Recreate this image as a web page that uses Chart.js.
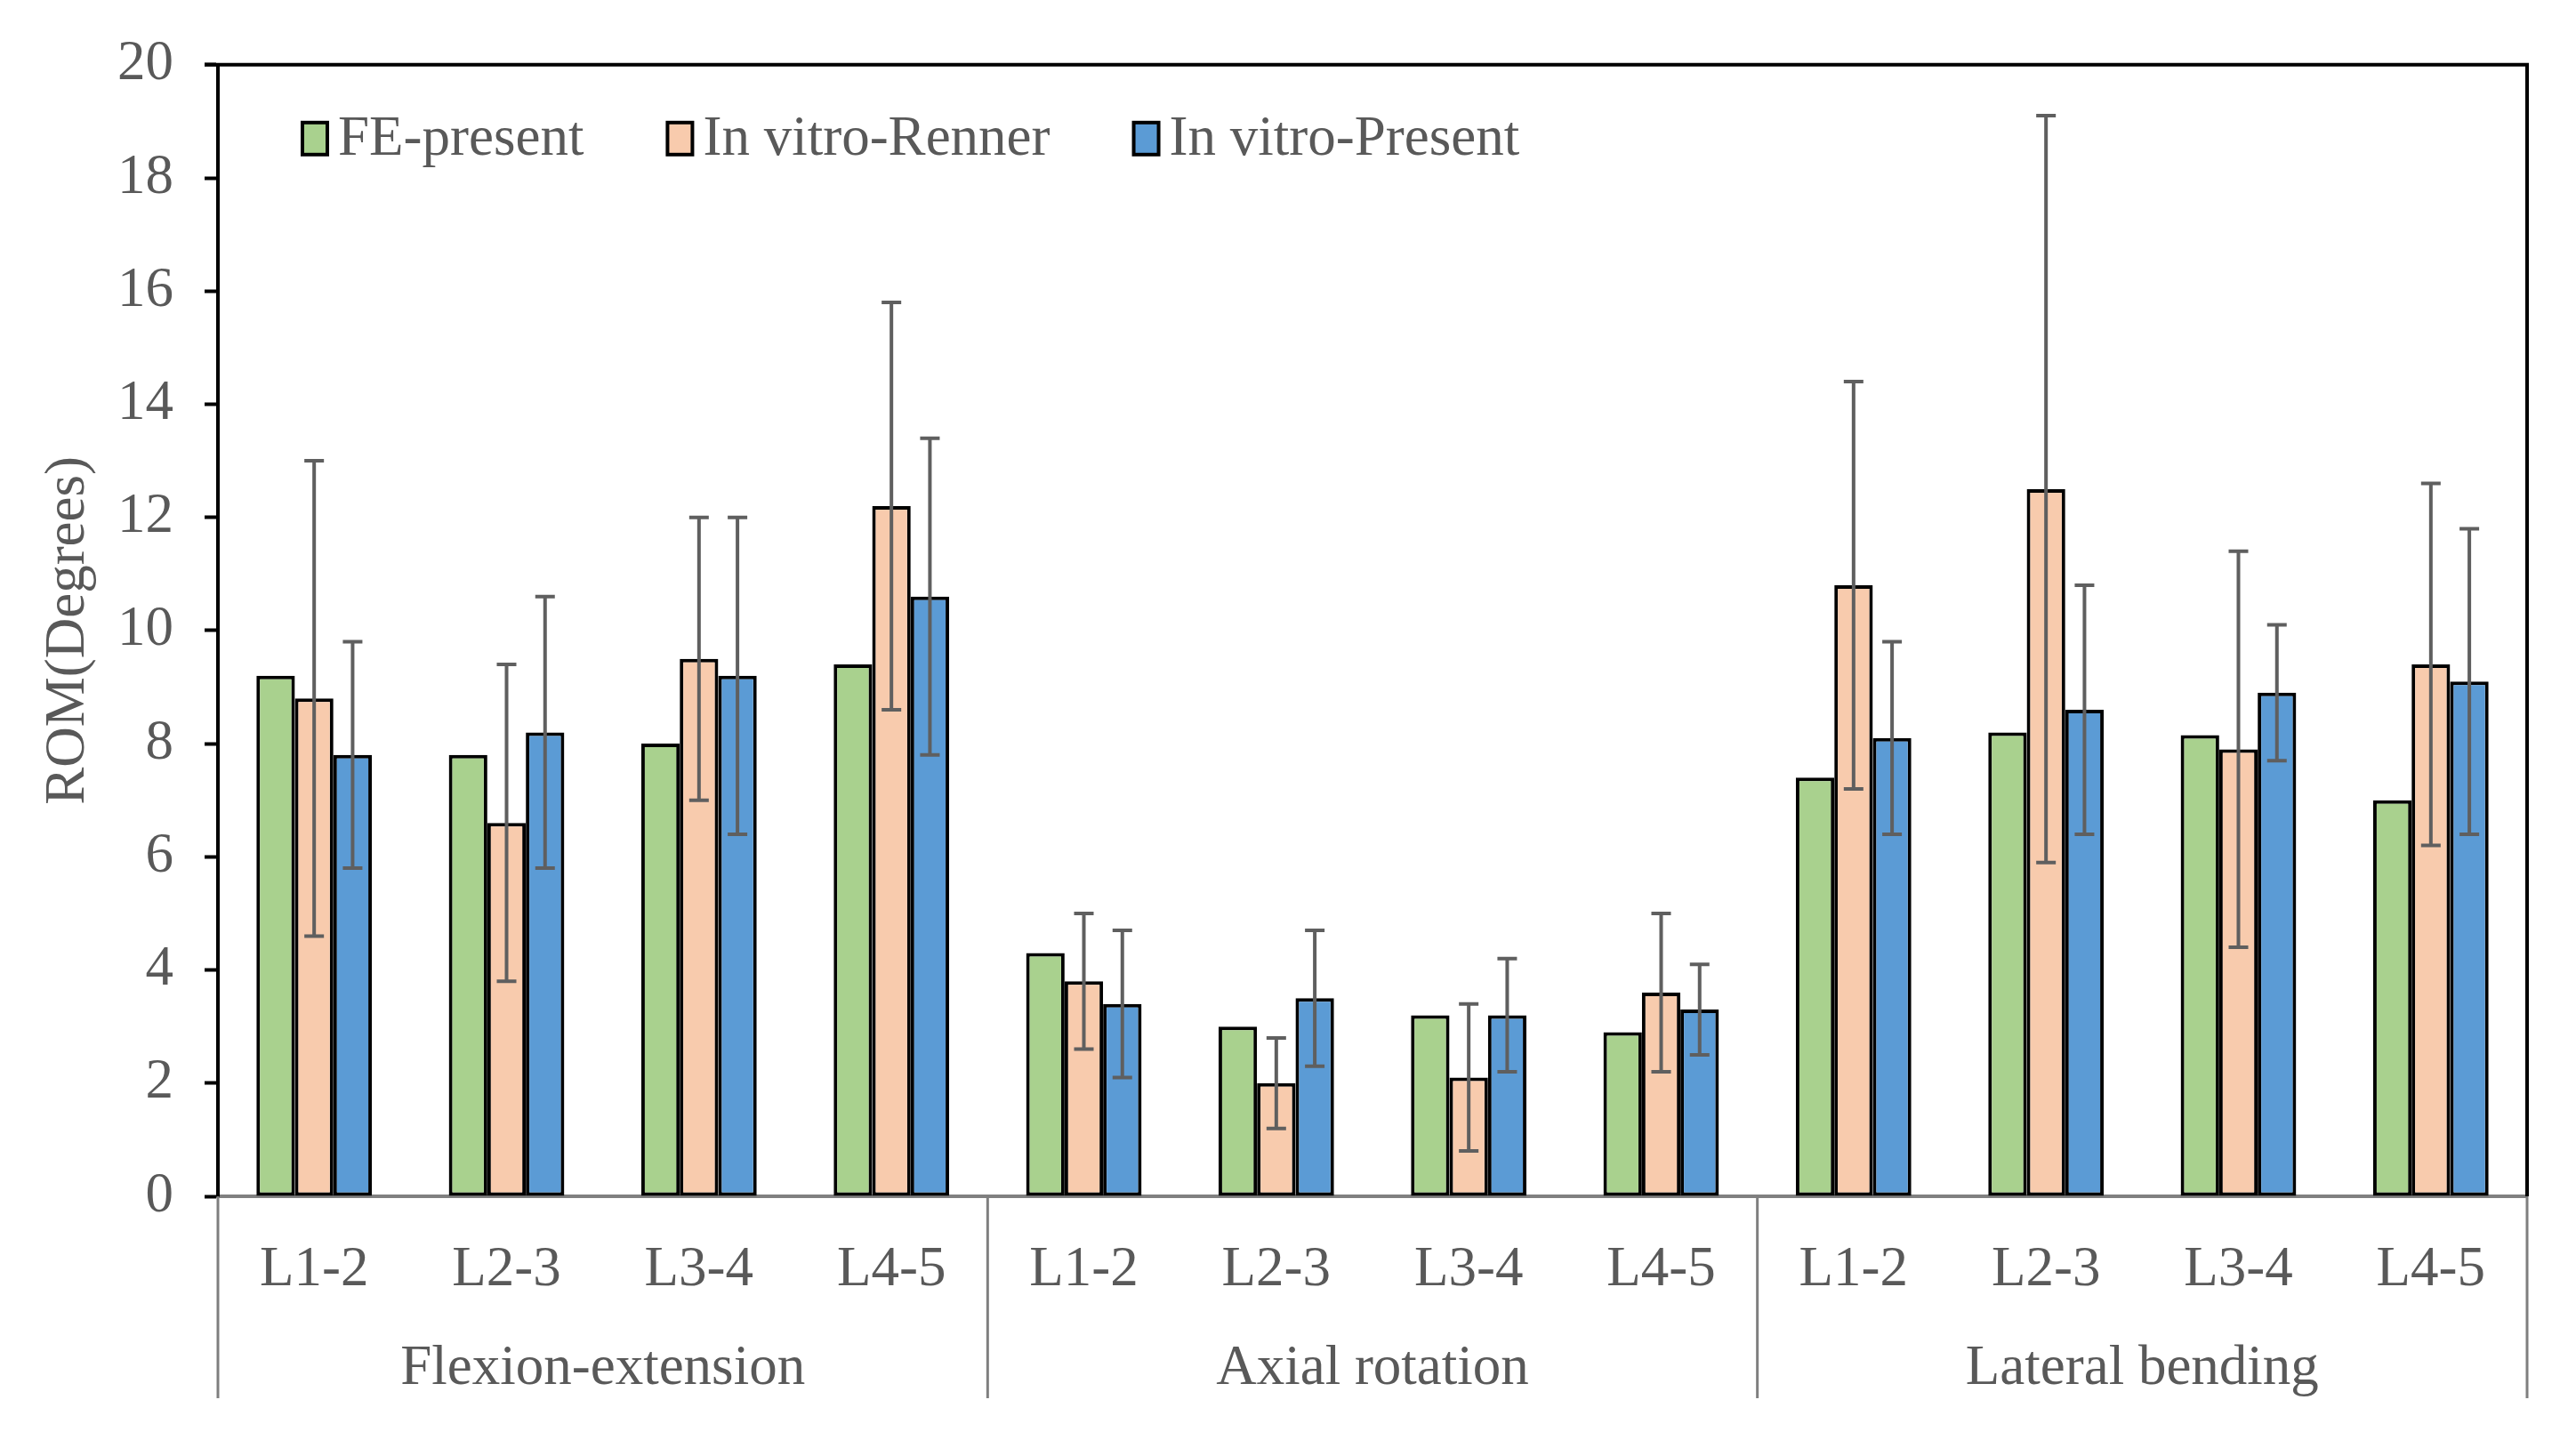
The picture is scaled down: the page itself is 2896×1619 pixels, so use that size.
<!DOCTYPE html>
<html>
<head>
<meta charset="utf-8">
<title>ROM comparison</title>
<script src="https://cdn.jsdelivr.net/npm/chart.js@4.4.0/dist/chart.umd.min.js"></script>
<style>
  html, body { margin: 0; padding: 0; background: #fff; }
  #wrap { width: 2896px; height: 1619px; }
</style>
</head>
<body>
<div id="wrap"><canvas id="romChart"></canvas></div>
<script>
// ===== DATA =====
const levels = ['L1-2', 'L2-3', 'L3-4', 'L4-5', 'L1-2', 'L2-3', 'L3-4', 'L4-5', 'L1-2', 'L2-3', 'L3-4', 'L4-5'];
const motions = ['Flexion-extension', 'Axial rotation', 'Lateral bending'];
const seriesNames = ['FE-present', 'In vitro-Renner', 'In vitro-Present'];

const fePresent = [9.2, 7.8, 8.0, 9.4, 4.3, 3.0, 3.2, 2.9, 7.4, 8.2, 8.15, 7.0];
const renner    = [8.8, 6.6, 9.5, 12.2, 3.8, 2.0, 2.1, 3.6, 10.8, 12.5, 7.9, 9.4];
const rennerSd  = [4.2, 2.8, 2.5, 3.6, 1.2, 0.8, 1.3, 1.4, 3.6, 6.6, 3.5, 3.2];
const present   = [7.8, 8.2, 9.2, 10.6, 3.4, 3.5, 3.2, 3.3, 8.1, 8.6, 8.9, 9.1];
const presentSd = [2.0, 2.4, 2.8, 2.8, 1.3, 1.2, 1.0, 0.8, 1.7, 2.2, 1.2, 2.7];

const yMin = 0, yMax = 20, yStep = 2;

// ===== STYLE =====
const FONT = 'Liberation Serif, Times New Roman, serif';
const TEXT = '#595959';
const colors = ['#A9D18E', '#F8CBAD', '#5B9BD5'];

// error bars (mean +/- sd) through the y scale
const errorBars = {
  id: 'errorBars',
  afterDatasetsDraw(chart) {
    const { ctx } = chart;
    const y = chart.scales.y;
    ctx.save();
    ctx.strokeStyle = '#5f5f5f';
    ctx.lineWidth = 4;
    chart.data.datasets.forEach((ds, di) => {
      if (!ds.sd) return;
      chart.getDatasetMeta(di).data.forEach((bar, i) => {
        const top = y.getPixelForValue(ds.data[i] + ds.sd[i]);
        const bot = y.getPixelForValue(ds.data[i] - ds.sd[i]);
        ctx.beginPath();
        ctx.moveTo(bar.x, top); ctx.lineTo(bar.x, bot);
        ctx.moveTo(bar.x - 11, top); ctx.lineTo(bar.x + 11, top);
        ctx.moveTo(bar.x - 11, bot); ctx.lineTo(bar.x + 11, bot);
        ctx.stroke();
      });
    });
    ctx.restore();
  }
};

// frame on top/right + group separators under the axis + legend in plot
const frame = {
  id: 'frame',
  afterDraw(chart) {
    const { ctx, chartArea: a } = chart;
    const x = chart.scales.x;
    ctx.save();
    ctx.strokeStyle = '#000';
    ctx.lineWidth = 4;
    ctx.beginPath();
    ctx.moveTo(a.left - 15, a.top); ctx.lineTo(a.right, a.top); ctx.lineTo(a.right, a.bottom);
    ctx.stroke();

    // separators between motion groups
    ctx.strokeStyle = '#7f7f7f';
    ctx.lineWidth = 3;
    const yEnd = chart.height - 47;
    for (let g = 0; g <= motions.length; g++) {
      const px = x.getPixelForValue(g * 4 - 0.5);
      ctx.beginPath();
      ctx.moveTo(px, a.bottom); ctx.lineTo(px, yEnd);
      ctx.stroke();
    }

    // legend
    ctx.font = `63px ${FONT}`;
    ctx.textBaseline = 'middle';
    ctx.textAlign = 'left';
    let lx = a.left + 95;
    const ly = a.top + 83;
    seriesNames.forEach((name, i) => {
      ctx.fillStyle = colors[i];
      ctx.fillRect(lx, ly - 18, 28, 36);
      ctx.strokeStyle = '#000';
      ctx.lineWidth = 4;
      ctx.strokeRect(lx, ly - 18, 28, 36);
      ctx.fillStyle = TEXT;
      ctx.fillText(name, lx + 40, ly + 2);
      lx += 40 + ctx.measureText(name).width + 94;
    });
    ctx.restore();
  }
};

const barStyle = { borderColor: '#000', borderWidth: 4, borderSkipped: false,
                   categoryPercentage: 0.6, barPercentage: 1.0 };

new Chart(document.getElementById('romChart'), {
  type: 'bar',
  data: {
    labels: levels,
    datasets: [
      { label: seriesNames[0], data: fePresent, backgroundColor: colors[0], ...barStyle },
      { label: seriesNames[1], data: renner, sd: rennerSd, backgroundColor: colors[1], ...barStyle },
      { label: seriesNames[2], data: present, sd: presentSd, backgroundColor: colors[2], ...barStyle }
    ]
  },
  options: {
    responsive: true,
    maintainAspectRatio: false,
    devicePixelRatio: 1,
    animation: false,
    layout: { padding: { top: 69, right: 55, bottom: 0, left: 0 } },
    plugins: { legend: { display: false }, tooltip: { enabled: false } },
    scales: {
      x: {
        type: 'category',
        offset: true,
        grid: { display: true, drawOnChartArea: false, drawTicks: false },
        border: { display: true, color: '#808080', width: 4 },
        ticks: { color: TEXT, font: { family: FONT, size: 63 }, padding: 46,
                 autoSkip: false, maxRotation: 0 },
        afterFit: s => { s.height = 125; }
      },
      x2: {
        type: 'category',
        position: 'bottom',
        labels: motions,
        offset: true,
        grid: { display: false, drawTicks: false },
        border: { display: false },
        ticks: { color: TEXT, font: { family: FONT, size: 63 }, padding: 32,
                 autoSkip: false, maxRotation: 0 },
        afterFit: s => { s.height = 149; }
      },
      y: {
        min: yMin,
        max: yMax,
        ticks: { stepSize: yStep, color: TEXT, font: { family: FONT, size: 63 }, padding: 35 },
        grid: { drawOnChartArea: false, drawTicks: true, tickLength: 15, tickWidth: 4, tickColor: '#000' },
        border: { display: true, color: '#000', width: 4 },
        title: { display: true, text: 'ROM(Degrees)', color: TEXT,
                 font: { family: FONT, size: 63 }, padding: { top: 40, bottom: 0 } },
        afterFit: s => { s.width = 245; }
      }
    }
  },
  plugins: [errorBars, frame]
});
</script>
</body>
</html>
